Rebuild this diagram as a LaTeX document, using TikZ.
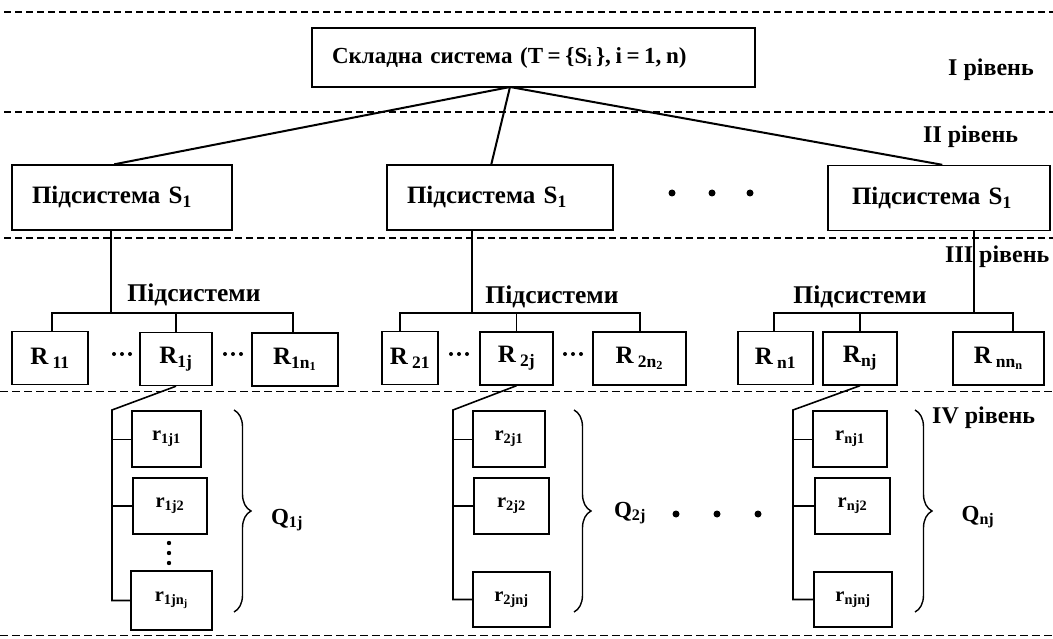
\documentclass[tikz,border=0pt]{standalone}
\usepackage{fontspec}
\setmainfont{Liberation Serif}
\usetikzlibrary{decorations.pathreplacing,calc}
\newcommand{\gp}{\hspace{0.2em}}
\begin{document}
\begin{tikzpicture}[x=1pt,y=-1pt,
  box/.style={draw, line width=1.4pt, inner sep=0pt, font=\bfseries\fontsize{23}{26}\selectfont},
  sbox/.style={box, minimum height=65pt, align=left, font=\bfseries\fontsize{25}{28}\selectfont},
  rbox/.style={box, minimum height=53pt, font=\bfseries\fontsize{25}{27}\selectfont},
  qbox/.style={box, font=\bfseries\fontsize{20.5}{22}\selectfont},
  lvl/.style={font=\bfseries\fontsize{24}{26}\selectfont, anchor=west, inner sep=0pt},
  txt/.style={font=\bfseries\fontsize{25.5}{28}\selectfont, inner sep=0pt},
  qlab/.style={font=\bfseries\fontsize{23}{25}\selectfont, inner sep=0pt},
  thickdash/.style={line width=2.2pt, dash pattern=on 7pt off 4pt},
  thindash/.style={line width=1pt, dash pattern=on 8pt off 4pt},
  conn/.style={line width=1.6pt},
  tconn/.style={line width=2pt},
  brc/.style={line width=1.4pt, decorate, decoration={brace, amplitude=17pt, aspect=0.5}}
]
\useasboundingbox (0,0) rectangle (1053,639);

% level separators
\draw[thickdash] (4,12) -- (1053,12);
\draw[thickdash] (4,112) -- (1053,112);
\draw[thickdash] (4,238) -- (1053,238);
\draw[thindash] (0,391) -- (1053,391);
\draw[thindash] (0,635) -- (1053,635);

% level labels
\node[lvl] (L1) at (948,70) {I рівень};
\node[lvl] (L2) at (923,137) {II рівень};
\node[lvl] (L3) at (945,257) {III рівень};
\node[lvl] (L4) at (932,418) {IV рівень};

% top
\node[box, minimum width=443pt, minimum height=59pt, inner xsep=20pt, text width=403pt, align=left] (top) at (533.5,57.5)
  {Складна система (T\gp=\gp\{S\textsubscript{i}\,\},\gp i\gp=\gp 1,\gp n)};

% subsystems
\node[sbox, minimum width=220pt, inner xsep=20pt, text width=180pt] (S1) at (122,197.5) {Підсистема S\textsubscript{1}};
\node[sbox, minimum width=226pt, inner xsep=20pt, text width=186pt] (S2) at (500,197.5) {Підсистема S\textsubscript{1}};
\node[sbox, minimum width=222pt, inner xsep=24pt, text width=174pt] (S3) at (939,198) {Підсистема S\textsubscript{1}};

\coordinate (tj) at (510,87);
\draw[tconn] (tj) -- ($(S1.north west)+(103,0)$);
\draw[tconn] (tj) -- ($(S2.north west)+(105,0)$);
\draw[tconn] (tj) -- ($(S3.north west)+(115,0)$);

\fill (672,193) circle (3.5) (712,193) circle (3.5) (750,193) circle (3.5);

% level III
\node[txt] (P1) at (194,295) {Підсистеми};
\node[txt] (P2) at (552,297) {Підсистеми};
\node[txt] (P3) at (860,297) {Підсистеми};

\node[rbox, minimum width=76pt] (R11) at (50,358) {R\,\textsubscript{11}};
\node[rbox, minimum width=72pt] (R1j) at (176,359) {R\textsubscript{1j}};
\node[rbox, minimum width=86pt] (R1n) at (295,359.5) {R\textsubscript{1n\textsubscript{1}}};
\node[rbox, minimum width=56pt] (R21) at (410,358) {R\,\textsubscript{21}};
\node[rbox, minimum width=73pt] (R2j) at (516.5,358.5) {R\,\textsubscript{2j}};
\node[rbox, minimum width=93pt] (R2n) at (639.5,358.5) {R\,\textsubscript{2n\textsubscript{2}}};
\node[rbox, minimum width=75pt] (Rn1) at (775.5,358) {R\,\textsubscript{n1}};
\node[rbox, minimum width=74pt] (Rnj) at (860,358.5) {R\textsubscript{nj}};
\node[rbox, minimum width=91pt] (Rnn) at (998.5,358.5) {R\,\textsubscript{nn\textsubscript{n}}};

% horizontal ellipses between R boxes
\foreach \cx in {122,233,459,573}
  \fill (\cx-8,354) circle (2) (\cx,354) circle (2) (\cx+8,354) circle (2);

% buses
\coordinate (v1) at (111,313);
\coordinate (b1l) at (52,313);
\coordinate (b1r) at (293,313);
\draw[conn] (S1.south -| v1) -- (v1);
\draw[conn] (b1l |- R11.north) -- (b1l) -- (b1r) -- (b1r |- R1n.north);
\draw[conn] (R1j.north |- v1) -- (R1j.north);

\coordinate (v2) at (472,313);
\coordinate (b2l) at (400,313);
\coordinate (b2r) at (640,313);
\draw[conn] (S2.south -| v2) -- (v2);
\draw[conn] (b2l |- R21.north) -- (b2l) -- (b2r) -- (b2r |- R2n.north);
\draw[conn] (R2j.north |- v2) -- (R2j.north);

\coordinate (v3) at (974,313);
\coordinate (b3l) at (774,313);
\coordinate (b3r) at (1013,313);
\draw[conn] (S3.south -| v3) -- (v3);
\draw[conn] (b3l |- Rn1.north) -- (b3l) -- (b3r) -- (b3r |- Rnn.north);
\draw[conn] (Rnj.north |- v3) -- (Rnj.north);

% level IV, group 1
\node[qbox, minimum width=69pt, minimum height=56pt] (a1) at (166.5,439) {r\textsubscript{1j1}};
\node[qbox, minimum width=74pt, minimum height=56pt] (a2) at (170,506) {r\textsubscript{1j2}};
\node[qbox, minimum width=81pt, minimum height=59pt] (a3) at (171.5,600.5) {r\textsubscript{1jn\textsubscript{j}}};
\coordinate (c1) at (112,410);
\draw[conn] (R1j.south) -- (c1) |- (a3.west);
\draw[line width=1pt] (c1 |- a1.west) -- (a1.west);
\draw[conn] (c1 |- a2.west) -- (a2.west);
\fill (169,543) circle (2.2) (169,553) circle (2.2) (169,563) circle (2.2);
\draw[brc] (234,410) -- (234,612);
\node[qlab] (Q1) at (287,520) {Q\textsubscript{1j}};

% group 2
\node[qbox, minimum width=72pt, minimum height=56pt] (e1) at (509,439) {r\textsubscript{2j1}};
\node[qbox, minimum width=75pt, minimum height=56pt] (e2) at (511.5,506) {r\textsubscript{2j2}};
\node[qbox, minimum width=77pt, minimum height=55pt] (e3) at (511.5,599.5) {r\textsubscript{2jnj}};
\coordinate (c2) at (453,410);
\draw[conn] (R2j.south) -- (c2) |- (e3.west);
\draw[line width=1pt] (c2 |- e1.west) -- (e1.west);
\draw[conn] (c2 |- e2.west) -- (e2.west);
\draw[brc] (574,410) -- (574,612);
\node[qlab] (Q2) at (630,513) {Q\textsubscript{2j}};

\fill (676,514) circle (3.5) (717,514) circle (3.5) (758,514) circle (3.5);

% group 3
\node[qbox, minimum width=74pt, minimum height=56pt] (f1) at (850,439) {r\textsubscript{nj1}};
\node[qbox, minimum width=75pt, minimum height=56pt] (f2) at (852.5,506) {r\textsubscript{nj2}};
\node[qbox, minimum width=78pt, minimum height=55pt] (f3) at (853,599.5) {r\textsubscript{njnj}};
\coordinate (c3) at (793,410);
\draw[conn] (Rnj.south) -- (c3) |- (f3.west);
\draw[line width=1pt] (c3 |- f1.west) -- (f1.west);
\draw[conn] (c3 |- f2.west) -- (f2.west);
\draw[brc] (915,410) -- (915,612);
\node[qlab] (Q3) at (978,517) {Q\textsubscript{nj}};

\end{tikzpicture}
\end{document}
